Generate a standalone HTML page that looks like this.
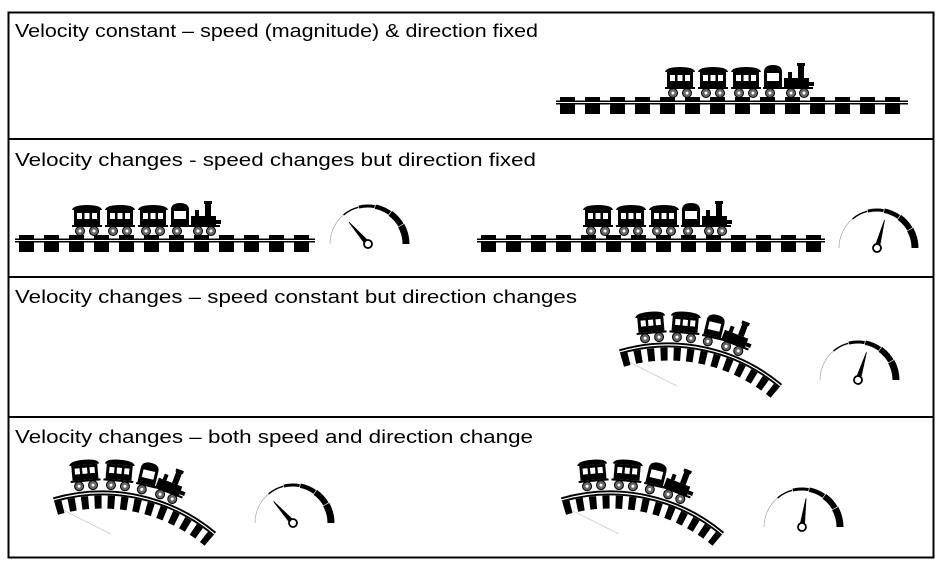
<!DOCTYPE html>
<html><head><meta charset="utf-8"><style>
html,body{margin:0;padding:0;background:#fff}
svg{display:block}
text{font-family:"Liberation Sans",sans-serif;font-size:18px;fill:#000}
</style></head><body>
<svg width="943" height="568" viewBox="0 0 943 568" xmlns="http://www.w3.org/2000/svg">
<defs>
<pattern id="ties" x="4" y="0" width="25" height="17" patternUnits="userSpaceOnUse"><rect x="0" y="0" width="15" height="17" fill="#000"/></pattern>
<g id="car">
 <path d="M-15,-26 Q-14,-31 0,-31 Q14,-31 15,-26 Z"/>
 <rect x="-13" y="-26" width="26" height="15"/>
 <rect x="-10" y="-23" width="5" height="6" fill="#fff"/>
 <rect x="-2.5" y="-23" width="5" height="6" fill="#fff"/>
 <rect x="5" y="-23" width="5" height="6" fill="#fff"/>
 <rect x="-15" y="-11" width="30" height="2"/>
 <circle cx="-7" cy="-5" r="4.5" fill="#666" stroke="#000" stroke-width="1"/><circle cx="-7" cy="-5" r="1.5" fill="#fff"/>
 <circle cx="7" cy="-5" r="4.5" fill="#666" stroke="#000" stroke-width="1"/><circle cx="7" cy="-5" r="1.5" fill="#fff"/>
</g>
<g id="cab">
 <path d="M-9,-11 V-26 Q-9,-33 0,-33 Q9,-33 9,-26 V-11 Z"/>
 <rect x="-6" y="-25" width="12" height="8" fill="#fff"/>
 <rect x="-10" y="-11" width="20" height="2"/>
 <circle cx="-3" cy="-5" r="4.5" fill="#666" stroke="#000"/><circle cx="-3" cy="-5" r="1.5" fill="#fff"/>
</g>
<g id="eng">
 <rect x="-15" y="-20" width="25" height="11"/>
 <rect x="-1" y="-33" width="6" height="13"/><rect x="-2" y="-35" width="8" height="3"/>
 <rect x="-11" y="-26" width="4" height="6"/>
 <rect x="10" y="-16" width="5" height="4"/>
 <rect x="-16" y="-11" width="30" height="2"/>
 <circle cx="-8" cy="-5" r="4.5" fill="#666" stroke="#000"/><circle cx="-8" cy="-5" r="1.5" fill="#fff"/>
 <circle cx="5" cy="-5" r="4.5" fill="#666" stroke="#000"/><circle cx="5" cy="-5" r="1.5" fill="#fff"/>
</g>
<g id="train">
 <use href="#car" x="15" y="0"/>
 <use href="#car" x="48" y="0"/>
 <use href="#car" x="81" y="0"/>
 <use href="#cab" x="108" y="0"/>
 <use href="#eng" x="134" y="0"/>
</g>
<g id="curve">
 <line x1="6" y1="36" x2="62" y2="64" stroke="#ccc" stroke-width="0.8"/>
 <path d="M7.2,38.5 A166,166 0 0 1 159.7,70.8" fill="none" stroke="#000" stroke-width="13" stroke-dasharray="7 6"/>
 <path d="M4.7,29.8 A175,175 0 0 1 165.5,63.9" fill="none" stroke="#000" stroke-width="5"/>
 <path d="M4.7,29.8 A175,175 0 0 1 165.5,63.9" fill="none" stroke="#fff" stroke-width="1.2"/>
 <g transform="translate(53,198)">
  <g transform="rotate(-5) translate(0,-178)"><use href="#car"/></g>
  <g transform="rotate(5) translate(0,-178)"><use href="#car"/></g>
  <g transform="rotate(13.5) translate(0,-178)"><use href="#cab"/></g>
  <g transform="rotate(21) translate(0,-178)"><use href="#eng"/></g>
 </g>
</g>
<g id="gauge">
 <path d="M-38,0 A38,38 0 0 1 -24.4,-29.1" fill="none" stroke="#999" stroke-width="0.6"/>
 <path d="M-24.4,-29.1 A38,38 0 0 1 -9.8,-36.7" fill="none" stroke="#000" stroke-width="1.5"/>
 <path d="M-9.2,-36.9 A38,38 0 0 1 6.6,-37.4" fill="none" stroke="#000" stroke-width="3"/>
 <path d="M7.3,-37.3 A38,38 0 0 1 21.8,-31.1" fill="none" stroke="#000" stroke-width="4.5"/>
 <path d="M22.3,-30.7 A38,38 0 0 1 32.9,-19" fill="none" stroke="#000" stroke-width="6"/>
 <path d="M33.2,-18.4 A38,38 0 0 1 38,0" fill="none" stroke="#000" stroke-width="7"/>
</g>
<g id="needle">
 <polygon points="-2.5,-3 2.5,-3 0.4,-29 -0.4,-29"/>
 <circle cx="0" cy="0" r="4" fill="#fff" stroke="#000" stroke-width="1.8"/>
</g>
</defs>

<rect x="8.5" y="12.5" width="925" height="545" fill="none" stroke="#000" stroke-width="2"/>
<line x1="8" y1="139" x2="934" y2="139" stroke="#000" stroke-width="2"/>
<line x1="8" y1="277" x2="934" y2="277" stroke="#000" stroke-width="2"/>
<line x1="8" y1="417" x2="934" y2="417" stroke="#000" stroke-width="2"/>

<text x="15" y="37" textLength="523" lengthAdjust="spacingAndGlyphs">Velocity constant – speed (magnitude) &amp; direction fixed</text>
<text x="15" y="166" textLength="521" lengthAdjust="spacingAndGlyphs">Velocity changes - speed changes but direction fixed</text>
<text x="15" y="303" textLength="562" lengthAdjust="spacingAndGlyphs">Velocity changes – speed constant but direction changes</text>
<text x="15" y="443" textLength="518" lengthAdjust="spacingAndGlyphs">Velocity changes – both speed and direction change</text>

<g transform="translate(556,102)">
 <rect x="0" y="-5" width="352" height="17" fill="url(#ties)"/>
 <rect x="0" y="-1.5" width="352" height="4"/><rect x="0" y="0" width="352" height="1" fill="#fff"/>
</g>
<use href="#train" x="665" y="98"/>

<g transform="translate(15,240)">
 <rect x="0" y="-5" width="300" height="17" fill="url(#ties)"/>
 <rect x="0" y="-1.5" width="300" height="4"/><rect x="0" y="0" width="300" height="1" fill="#fff"/>
</g>
<use href="#train" x="72" y="236"/>
<g transform="translate(477,240)">
 <rect x="0" y="-5" width="348" height="17" fill="url(#ties)"/>
 <rect x="0" y="-1.5" width="348" height="4"/><rect x="0" y="0" width="348" height="1" fill="#fff"/>
</g>
<use href="#train" x="583" y="236"/>
<g transform="translate(368,244)"><use href="#gauge"/><g transform="rotate(-41)"><use href="#needle"/></g></g>
<g transform="translate(877,248)"><use href="#gauge"/><g transform="rotate(15)"><use href="#needle"/></g></g>

<use href="#curve" x="615" y="322"/>
<g transform="translate(858,380)"><use href="#gauge"/><g transform="rotate(17)"><use href="#needle"/></g></g>

<use href="#curve" x="49" y="470"/>
<g transform="translate(293,523)"><use href="#gauge"/><g transform="rotate(-42)"><use href="#needle"/></g></g>
<use href="#curve" x="557" y="470"/>
<g transform="translate(802,527)"><use href="#gauge"/><g transform="rotate(8)"><use href="#needle"/></g></g>
</svg>
</body></html>
